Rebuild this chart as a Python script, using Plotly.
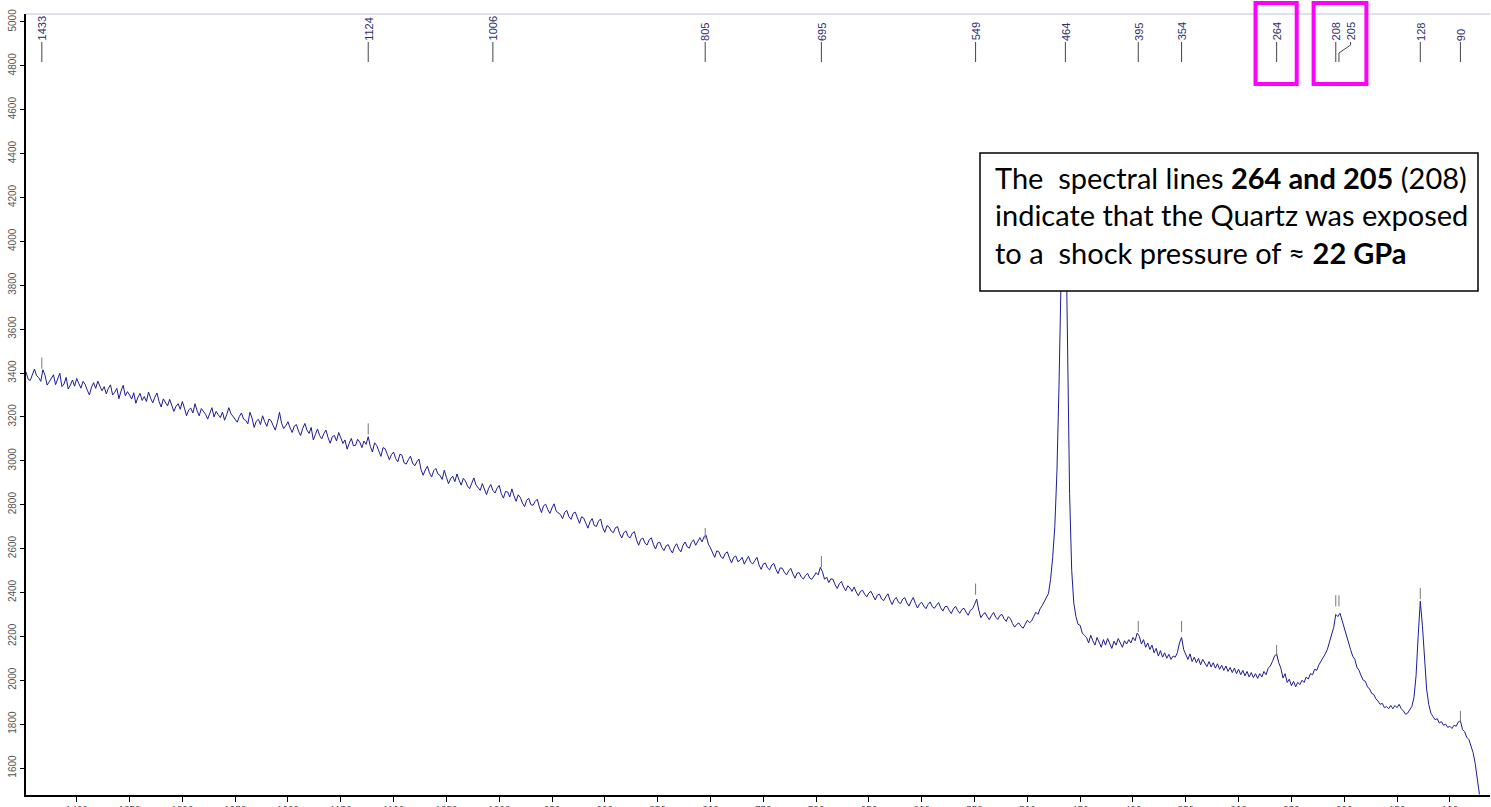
import plotly.graph_objects as go

# ---------------- data ----------------
# Raman shift grid (cm-1), 1448 -> 72, sampled every 2 cm-1
wavenumber = list(range(1448, 71, -2))
intensity = [
    # 1448 .. 1410
    3405, 3372, 3366, 3395, 3418, 3388, 3379, 3362, 3415, 3390, 3345, 3360, 3376, 3392, 3347, 3370, 3399, 3338, 3350, 3380,
    # 1408 .. 1370
    3327, 3345, 3368, 3340, 3375, 3352, 3331, 3362, 3348, 3322, 3300, 3335, 3356, 3330, 3363, 3340, 3319, 3338, 3305, 3330,
    # 1368 .. 1330
    3346, 3300, 3312, 3330, 3283, 3318, 3344, 3296, 3315, 3300, 3281, 3310, 3262, 3290, 3307, 3275, 3293, 3270, 3313, 3285,
    # 1328 .. 1290
    3264, 3290, 3309, 3270, 3245, 3282, 3265, 3250, 3280, 3252, 3225, 3248, 3260, 3235, 3270, 3240, 3205, 3232, 3240, 3218,
    # 1288 .. 1250
    3260, 3228, 3205, 3238, 3227, 3212, 3190, 3215, 3242, 3200, 3225, 3210, 3197, 3222, 3185, 3210, 3242, 3215, 3200, 3188,
    # 1248 .. 1210
    3176, 3202, 3218, 3190, 3184, 3168, 3221, 3195, 3152, 3180, 3189, 3165, 3205, 3178, 3157, 3190, 3183, 3160, 3140, 3175,
    # 1208 .. 1170
    3221, 3170, 3147, 3160, 3178, 3150, 3129, 3158, 3165, 3135, 3115, 3148, 3170, 3140, 3125, 3152, 3095, 3120, 3145, 3115,
    # 1168 .. 1130
    3100, 3125, 3140, 3105, 3080, 3110, 3115, 3090, 3129, 3105, 3079, 3095, 3053, 3080, 3102, 3068, 3071, 3098, 3085, 3060,
    # 1128 .. 1090
    3090, 3075, 3110, 3065, 3040, 3082, 3070, 3045, 3020, 3060, 3055, 3030, 3005, 3028, 3040, 3010, 2995, 3030, 3025, 2990,
    # 1088 .. 1050
    2985, 3005, 3021, 2990, 2977, 2995, 3008, 2960, 2934, 2958, 2975, 2945, 2926, 2955, 2965, 2940, 2933, 2915, 2957, 2925,
    # 1048 .. 1010
    2896, 2918, 2930, 2905, 2940, 2912, 2889, 2920, 2908, 2885, 2873, 2898, 2922, 2890, 2877, 2865, 2896, 2870, 2846, 2875,
    # 1008 .. 970
    2892, 2865, 2853, 2875, 2888, 2850, 2830, 2860, 2858, 2835, 2872, 2840, 2815, 2845, 2833, 2808, 2791, 2820, 2829, 2800,
    # 968 .. 930
    2797, 2815, 2825, 2790, 2764, 2795, 2802, 2778, 2760, 2785, 2804, 2770, 2762, 2755, 2736, 2765, 2774, 2745, 2733, 2760,
    # 928 .. 890
    2766, 2738, 2715, 2745, 2739, 2715, 2693, 2722, 2737, 2705, 2701, 2725, 2735, 2695, 2674, 2705, 2698, 2680, 2672, 2695,
    # 888 .. 850
    2700, 2668, 2648, 2672, 2681, 2655, 2649, 2670, 2677, 2640, 2615, 2642, 2648, 2625, 2616, 2640, 2649, 2618, 2598, 2625,
    # 848 .. 810
    2629, 2605, 2591, 2612, 2618, 2595, 2580, 2608, 2622, 2598, 2585, 2615, 2630, 2608, 2602, 2628, 2640, 2615, 2633, 2650,
    # 808 .. 770
    2630, 2655, 2660, 2620, 2603, 2580, 2560, 2590, 2585, 2562, 2555, 2578, 2585, 2556, 2535, 2560, 2566, 2540, 2547, 2560,
    # 768 .. 730
    2529, 2548, 2565, 2538, 2530, 2545, 2560, 2525, 2505, 2530, 2534, 2512, 2503, 2525, 2532, 2505, 2486, 2512, 2510, 2492,
    # 728 .. 690
    2480, 2498, 2510, 2485, 2465, 2488, 2490, 2470, 2461, 2478, 2487, 2465, 2460, 2475, 2490, 2480, 2515, 2495, 2460, 2470,
    # 688 .. 650
    2445, 2462, 2460, 2435, 2418, 2440, 2450, 2425, 2408, 2430, 2421, 2405, 2425, 2402, 2385, 2405, 2410, 2392, 2380, 2398,
    # 648 .. 610
    2405, 2385, 2366, 2388, 2392, 2370, 2363, 2380, 2394, 2365, 2345, 2368, 2377, 2355, 2349, 2370, 2376, 2352, 2338, 2360,
    # 608 .. 570
    2377, 2350, 2329, 2348, 2355, 2338, 2326, 2345, 2357, 2335, 2328, 2342, 2354, 2330, 2315, 2335, 2337, 2318, 2304, 2325,
    # 568 .. 530
    2337, 2318, 2305, 2322, 2328, 2310, 2296, 2318, 2325, 2345, 2370, 2320, 2285, 2300, 2308, 2290, 2276, 2295, 2309, 2288,
    # 528 .. 490
    2277, 2295, 2300, 2280, 2268, 2290, 2280, 2258, 2242, 2255, 2261, 2245, 2237, 2255, 2273, 2262, 2270, 2290, 2310, 2300,
    # 488 .. 484
    2325, 2340, 2360,
    # 482 .. 444
    2375, 2395, 2460, 2560, 2700, 2950, 3350, 3900, 4350, 4250,
    3550, 2850, 2500, 2350, 2290, 2255, 2250, 2215, 2205, 2195,
    # 442 .. 300
    2170, 2205, 2180, 2160, 2195, 2172, 2150, 2185, 2160, 2190,
    2165, 2145, 2178, 2160, 2190, 2170, 2150, 2180, 2165, 2185,
    2170, 2195, 2180, 2215, 2200, 2165, 2185, 2150, 2170, 2140,
    2160, 2125, 2145, 2110, 2135, 2105, 2125, 2100, 2118, 2095,
    2110, 2105, 2125, 2170, 2195, 2140, 2115, 2095, 2120, 2085,
    2105, 2080, 2100, 2070, 2095, 2078, 2062, 2085, 2060, 2080,
    2055, 2075, 2050, 2068, 2045, 2065, 2040, 2058, 2035, 2055,
    2030, 2050,
    # 298 .. 72
    2025, 2045, 2020, 2040, 2015, 2035, 2012, 2030, 2008, 2030,
    2015, 2040, 2025, 2055, 2065, 2085, 2110, 2120, 2080, 2055,
    2010, 2030, 1990, 2005, 1975, 1995, 1970, 1990, 1980, 2000,
    1990, 2015, 2005, 2030, 2025, 2050, 2045, 2070, 2085, 2100,
    2120, 2140, 2170, 2200, 2240, 2300, 2290, 2305, 2270, 2240,
    2200, 2170, 2140, 2110, 2095, 2060, 2045, 2020, 2000, 1995,
    1970, 1960, 1940, 1935, 1915, 1905, 1890, 1895, 1875, 1880,
    1870, 1885, 1870, 1885, 1875, 1890, 1870, 1860, 1845, 1850,
    1865, 1880, 1920, 2020, 2200, 2360, 2250, 2080, 1960, 1890,
    1850, 1835, 1820, 1825, 1805, 1812, 1795, 1800, 1785, 1790,
    1780, 1795, 1790, 1810, 1815, 1775, 1765, 1740, 1730, 1700,
    1670, 1620, 1560, 1480,
]

peak_positions = [1433, 1124, 1006, 805, 695, 549, 464, 395, 354, 264, 208, 205, 128, 90]
peak_labels = ["1433", "1124", "1006", "805", "695", "549", "464", "395", "354", "264", "208", "205", "128", "90"]
# small peak-picking ticks drawn just above the curve
tick_positions = [1433, 1124, 805, 695, 549, 395, 354, 264, 208, 205, 128, 90]
tick_values = [3445, 3145, 2668, 2540, 2415, 2245, 2245, 2135, 2362, 2362, 2395, 1835]

highlighted = [[264], [208, 205]]

x_ticks = list(range(100, 1401, 50))
y_ticks = list(range(1600, 5001, 200))

note_lines = [
    "The\u00a0 spectral lines <b>264 and 205</b> (208)",
    "indicate that the Quartz was exposed",
    "to a\u00a0 shock pressure of \u2248 <b>22 GPa</b>",
]
note_sizes = [29, 29, 29]

# ---------------- layout constants ----------------
W, H = 1491, 807
ML, MR, MT, MB = 26, 1, 14, 12
PH = H - MT - MB
PW = W - ML - MR


def py(ypix):
    """pixel row -> paper y"""
    return (H - MB - ypix) / PH


def px(xpix):
    return (xpix - ML) / PW


fig = go.Figure()

fig.add_trace(go.Scatter(
    x=wavenumber, y=intensity, mode="lines",
    line=dict(color="#1c1c96", width=1), hoverinfo="x+y", showlegend=False,
))

fig.add_trace(go.Scatter(
    x=tick_positions, y=tick_values, mode="markers",
    marker=dict(symbol="line-ns", size=8, line=dict(color="#777777", width=1)),
    showlegend=False, hoverinfo="skip",
))

shapes = []
annotations = []

# top border line
shapes.append(dict(type="line", xref="paper", yref="paper", x0=0, x1=1, y0=1, y1=1,
                   line=dict(color="#dde2ea", width=2)))

# peak label sticks and labels
for pos, lab in zip(peak_positions, peak_labels):
    if lab == "205":
        lab_x = pos - 11
        path = (f"M {lab_x} {py(42)} L {lab_x} {py(45)} L {pos} {py(53)} L {pos} {py(62)}")
        shapes.append(dict(type="path", xref="x", yref="paper", path=path,
                           line=dict(color="#444444", width=1)))
    else:
        lab_x = pos
        shapes.append(dict(type="line", xref="x", yref="paper", x0=pos, x1=pos,
                           y0=py(42), y1=py(62), line=dict(color="#444444", width=1)))
    center = 41 - len(lab) * 3.1
    annotations.append(dict(
        x=lab_x, y=py(center), xref="x", yref="paper", text=lab, showarrow=False,
        textangle=-90, xanchor="center", yanchor="middle",
        font=dict(family="Liberation Sans, Arial", size=11, color="#2e2e6e"),
    ))

# magenta highlight boxes
for grp in highlighted:
    hi, lo = max(grp), min(grp)
    shapes.append(dict(type="rect", xref="x", yref="paper",
                       x0=hi + 20 if len(grp) == 1 else hi + 21,
                       x1=lo - 19 if len(grp) == 1 else lo - 26,
                       y0=py(84), y1=py(3),
                       line=dict(color="#ff00ff", width=4)))

# note box
shapes.append(dict(type="rect", xref="paper", yref="paper",
                   x0=px(980), x1=px(1478), y0=py(291), y1=py(153),
                   fillcolor="white", line=dict(color="black", width=1.5), layer="above"))
for i, (t, s) in enumerate(zip(note_lines, note_sizes)):
    annotations.append(dict(
        x=px(993), y=py(177 + 37.5 * i), xref="paper", yref="paper", text=t,
        showarrow=False, xanchor="left", yanchor="middle", align="left",
        font=dict(family="Lato, Carlito, Calibri, sans-serif", size=s, color="black"),
    ))

fig.update_layout(
    width=W, height=H,
    margin=dict(l=ML, r=MR, t=MT, b=MB, pad=0, autoexpand=False),
    paper_bgcolor="white", plot_bgcolor="white",
    shapes=shapes, annotations=annotations,
    xaxis=dict(range=[1448, 62], tickvals=x_ticks, ticktext=[str(v) for v in x_ticks],
               showgrid=False, zeroline=False, showline=True, linecolor="black", linewidth=2,
               ticks="outside", ticklen=5, tickcolor="black", tickwidth=1, automargin=False,
               tickfont=dict(family="Liberation Sans, Arial", size=10, color="#555555")),
    yaxis=dict(range=[1477, 5036], tickvals=y_ticks, ticktext=[str(v) for v in y_ticks],
               showgrid=False, zeroline=False, showline=True, linecolor="black", linewidth=2,
               ticks="outside", ticklen=4, tickcolor="black", tickwidth=1, tickangle=-90,
               automargin=False,
               tickfont=dict(family="Liberation Sans, Arial", size=10, color="#555555")),
)

fig.write_html(
    "out.html",
    config={"displayModeBar": False},
    post_script="document.body.style.margin='0';document.body.style.overflow='hidden';",
)
